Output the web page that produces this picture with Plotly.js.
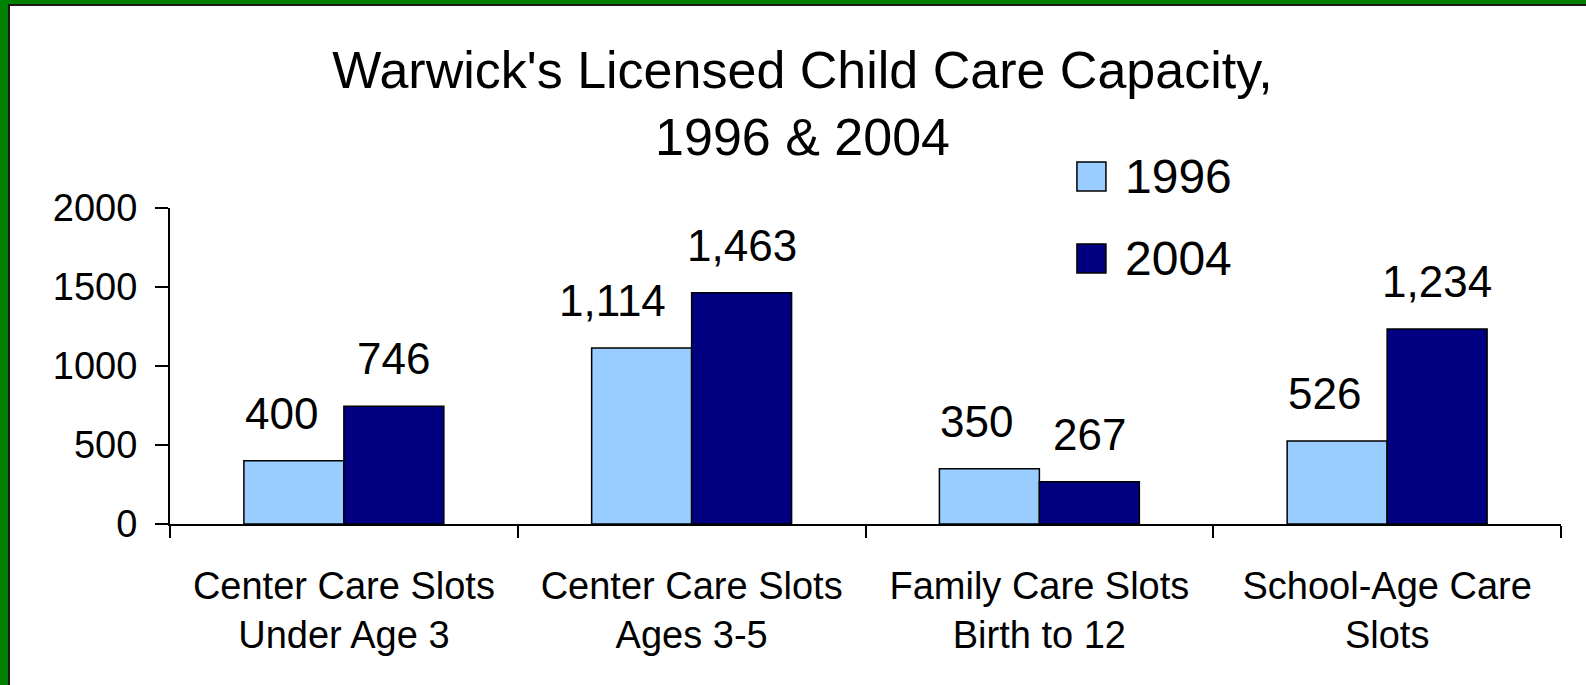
<!DOCTYPE html>
<html>
<head>
<meta charset="utf-8">
<script src="https://cdn.plot.ly/plotly-3.0.1.min.js"></script>
<style>
  body { margin: 0; background: #fff; }
  #wrap { position: relative; width: 1586px; height: 685px; overflow: hidden; }
  #chart { width: 1586px; height: 685px; }
  .edge { position: absolute; pointer-events: none; }
</style>
</head>
<body>
<div id="wrap">
  <div id="chart"></div>
  <!-- frame: green outer band, thin dark line inside -->
  <div class="edge" style="left:0;top:0;width:1586px;height:4px;background:#008000"></div>
  <div class="edge" style="left:0;top:0;width:8px;height:685px;background:#008000"></div>
  <div class="edge" style="left:8px;top:4px;width:1578px;height:2px;background:#1a1a1a"></div>
  <div class="edge" style="left:8px;top:4px;width:2px;height:681px;background:#1a1a1a"></div>
</div>
<script>
const categories = [
    'Center Care Slots<br>Under Age 3',
    'Center Care Slots<br>Ages 3-5',
    'Family Care Slots<br>Birth to 12',
    'School-Age Care<br>Slots'
];
const seriesNames = ['1996', '2004'];
const values1996 = [400, 1114, 350, 526];
const values2004 = [746, 1463, 267, 1234];
const yTicks = [0, 500, 1000, 1500, 2000];

const colors = ['#99CCFF', '#000080'];
const font = 'Liberation Sans, Arial, sans-serif';
const allValues = [values1996, values2004];

const data = allValues.map((vals, i) => ({
    x: categories,
    y: vals,
    type: 'bar',
    name: seriesNames[i],
    showlegend: false,
    marker: {
        color: colors[i],
        line: { color: '#000', width: 1.5 }
    },
    hoverinfo: 'x+y'
}));

// value labels above bars, lifted a bit like the original;
// 1996 labels sit right-aligned so they clear the taller 2004 bar
const annotations = [];
allValues.forEach((vals, i) => {
    vals.forEach((v, j) => {
        annotations.push({
            x: categories[j],
            y: v,
            xref: 'x', yref: 'y',
            text: v.toLocaleString('en-US'),
            showarrow: false,
            xanchor: i === 0 ? 'right' : 'center',
            xshift: i === 0 ? -24 : 50,
            yshift: 21,
            yanchor: 'bottom',
            font: { family: font, size: 44, color: '#000' }
        });
    });
});

// hand drawn legend with big swatches
const shapes = [];
const legendY = [1.100, 0.8405];
seriesNames.forEach((name, i) => {
    shapes.push({
        type: 'rect',
        xref: 'paper', yref: 'paper',
        xsizemode: 'pixel', ysizemode: 'pixel',
        xanchor: 0.652, yanchor: legendY[i],
        x0: 0, x1: 29, y0: -14.5, y1: 14.5,
        fillcolor: colors[i],
        line: { color: '#000', width: 1.5 }
    });
    annotations.push({
        x: 0.685, y: legendY[i],
        xref: 'paper', yref: 'paper',
        xanchor: 'left', yanchor: 'middle',
        text: name,
        showarrow: false,
        font: { family: font, size: 48, color: '#000' }
    });
});

const layout = {
    width: 1586,
    height: 685,
    paper_bgcolor: '#fff',
    plot_bgcolor: '#fff',
    margin: { l: 170, r: 25, t: 208, b: 161 },
    font: { family: font, color: '#000' },
    title: {
        text: "Warwick's Licensed Child Care Capacity,<br>1996 & 2004",
        x: 0.506,
        xanchor: 'center',
        y: 0.872,
        yanchor: 'top',
        font: { family: font, size: 52, color: '#000' }
    },
    barmode: 'group',
    bargap: 0.425,
    bargroupgap: 0,
    xaxis: {
        showline: true,
        linecolor: '#000',
        linewidth: 2,
        ticks: 'outside',
        tickson: 'boundaries',
        ticklen: 12,
        tickwidth: 2,
        tickcolor: '#000',
        ticklabelstandoff: 27,
        showgrid: false,
        tickfont: { family: font, size: 38, color: '#000' }
    },
    yaxis: {
        range: [0, 2000],
        tickvals: yTicks,
        ticktext: yTicks.map(String),
        showline: true,
        linecolor: '#000',
        linewidth: 2,
        ticks: 'outside',
        ticklen: 13,
        tickwidth: 2,
        tickcolor: '#000',
        ticklabelstandoff: 10,
        showgrid: false,
        zeroline: false,
        tickfont: { family: font, size: 38, color: '#000' }
    },
    annotations: annotations,
    shapes: shapes
};

var config = {
    responsive: false,
    displayModeBar: false
};
Plotly.newPlot('chart', data, layout, config);
</script>
</body>
</html>
